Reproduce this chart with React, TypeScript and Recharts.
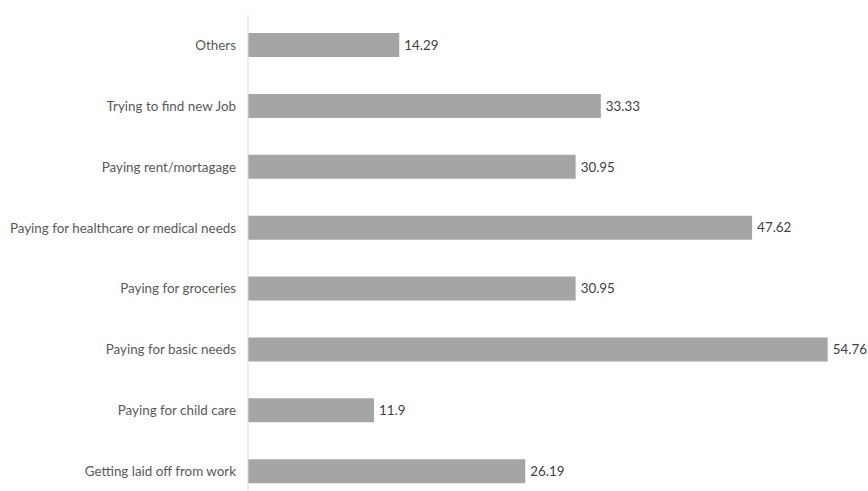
import React from 'react';
import { BarChart, Bar, XAxis, YAxis, LabelList } from 'recharts';

const categories = [
    'Others',
    'Trying to find new Job',
    'Paying rent/mortagage',
    'Paying for healthcare or medical needs',
    'Paying for groceries',
    'Paying for basic needs',
    'Paying for child care',
    'Getting laid off from work',
];

const values = [14.29, 33.33, 30.95, 47.62, 30.95, 54.76, 11.9, 26.19];

const data = categories.map((name, i) => ({ name, value: values[i] }));

const FONT = 'Lato, "Open Sans", sans-serif';

// plain one-line tick so the long category does not wrap
const CategoryTick = (props: any) => {
    const { x, y, payload } = props;
    return (
        <text x={x} y={y} dy={4.5} textAnchor="end" fill="#595959" fontSize={13.4} fontFamily={FONT}>
            {payload.value}
        </text>
    );
};

const App: React.FC = () => {
    return (
        <div style={{ position: 'absolute', left: 0, top: 0, width: 868, height: 491, overflow: 'hidden', background: '#fff' }}>
            <BarChart
                width={868}
                height={502}
                data={data}
                layout="vertical"
                margin={{ top: 15, right: 6, bottom: 0, left: 0 }}
                barCategoryGap={0}
            >
                <XAxis type="number" domain={[0, 58]} hide />
                <YAxis
                    type="category"
                    dataKey="name"
                    width={248}
                    tickLine={false}
                    axisLine={{ stroke: '#d9d9d9', strokeWidth: 1 }}
                    tickMargin={6}
                    interval={0}
                    tick={<CategoryTick />}
                />
                <Bar dataKey="value" fill="#a5a5a5" barSize={24} isAnimationActive={false}>
                    <LabelList
                        dataKey="value"
                        position="right"
                        offset={5}
                        fill="#404040"
                        fontSize={13.4}
                        fontFamily={FONT}
                    />
                </Bar>
            </BarChart>
        </div>
    );
};

export default App;
